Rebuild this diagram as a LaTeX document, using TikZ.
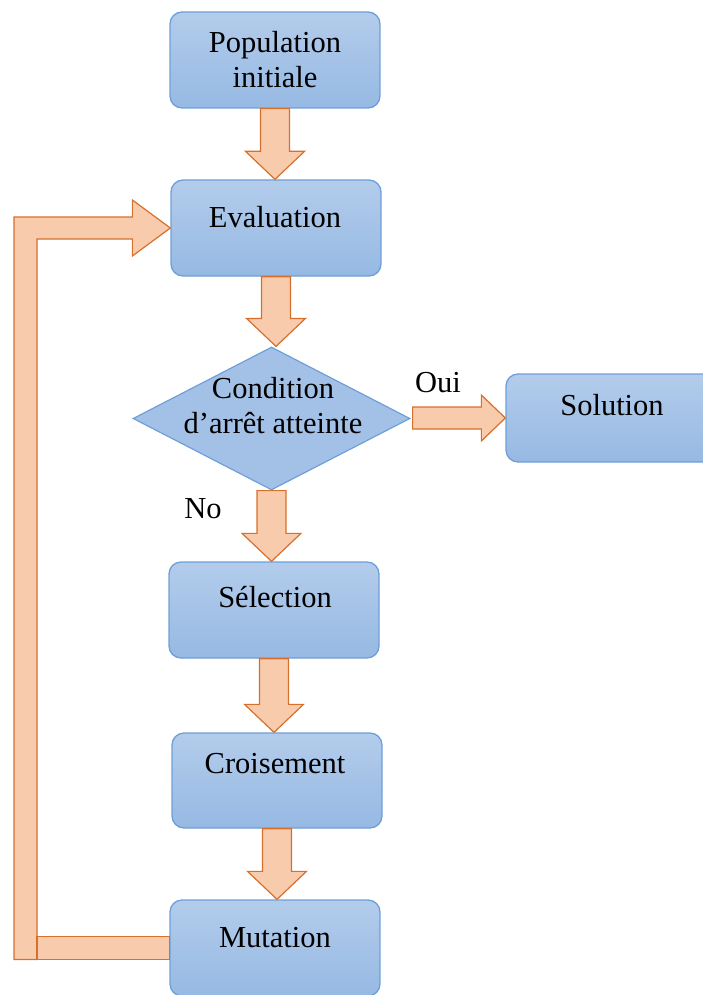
\documentclass[tikz,border=0pt]{standalone}
\usepackage{fontspec}
\setmainfont{Liberation Serif}
\usetikzlibrary{shapes.geometric,calc}

\definecolor{boxtop}{RGB}{179,204,235}
\definecolor{boxbot}{RGB}{150,185,227}
\definecolor{boxline}{RGB}{110,160,215}
\definecolor{diafill}{RGB}{163,193,230}
\definecolor{arrfill}{RGB}{248,203,173}
\definecolor{arrline}{RGB}{214,112,44}

% vertical block arrow from the bottom of #1 to the top of #2
\newcommand\blockdown[2]{%
  \path[blockarrow] let \p1=(#1.south), \p2=(#2.north) in
    (\x1-14.5pt,\y1) -- (\x1+14.5pt,\y1) -- (\x1+14.5pt,\y2+28pt)
    -- (\x1+29.5pt,\y2+28pt) -- (\x1,\y2) -- (\x1-29.5pt,\y2+28pt)
    -- (\x1-14.5pt,\y2+28pt) -- cycle;}

\begin{document}
\begin{tikzpicture}[x=1pt,y=-1pt,
  box/.style={draw=boxline, line width=1.3pt, rounded corners=12pt,
    top color=boxtop, bottom color=boxbot,
    minimum width=210pt, minimum height=96pt, inner sep=0pt},
  decision/.style={diamond, draw=boxline, line width=1.2pt, fill=diafill,
    minimum width=277pt, minimum height=143pt, inner sep=0pt},
  blockarrow/.style={draw=arrline, fill=arrfill, line width=1.2pt, line join=miter},
  lbl/.style={font=\fontsize{30.5}{35}\selectfont, inner sep=0pt, anchor=base}
]
\useasboundingbox (0,0) rectangle (703,995);

% boxes
\node[box] (pop) at (275,60) {};
\node[box] (eval) at (276,228) {};
\node[decision] (cond) at (271.5,418.5) {};
\node[box, minimum height=88pt] (sol) at (611,418) {};
\node[box] (sel) at (274,610) {};
\node[box, minimum height=95pt] (cross) at (277,780.5) {};
\node[box] (mut) at (275,948) {};

% texts (multi-line labels are placed by the baseline of their last line)
\node[lbl, align=center] (t-pop) at (275,88) {Population\\initiale};
\node[lbl] (t-eval) at (275,227) {Evaluation};
\node[lbl, align=center] (t-cond) at (273,433) {Condition\\d’arrêt atteinte};
\node[lbl] (t-sol) at (612,415) {Solution};
\node[lbl] (t-sel) at (275,607) {Sélection};
\node[lbl] (t-cross) at (275,773) {Croisement};
\node[lbl] (t-mut) at (275,947) {Mutation};
\node[lbl] (t-oui) at (438,392) {Oui};
\node[lbl] (t-no) at (203,518) {No};

% block arrows down the main column
\blockdown{pop}{eval}
\blockdown{eval}{cond}
\blockdown{cond}{sel}
\blockdown{sel}{cross}
\blockdown{cross}{mut}

% yes branch
\path[blockarrow] let \p1=(cond.east), \p2=(sol.west) in
  (\x1+2pt,\y2+11pt) -- (\x2-24pt,\y2+11pt) -- (\x2-24pt,\y2+23pt)
  -- (\x2,\y2) -- (\x2-24pt,\y2-23pt) -- (\x2-24pt,\y2-11pt)
  -- (\x1+2pt,\y2-11pt) -- cycle;

% loop back from mutation to evaluation
\coordinate (loopx) at (25.5,0);
\path[blockarrow] let \p1=(mut.west), \p2=(eval.west), \p3=(loopx) in
  (\x3-11.5pt,\y1-11.5pt) -- (\x3-11.5pt,\y2+11pt) -- (\x2-38pt,\y2+11pt)
  -- (\x2-38pt,\y2+28pt) -- (\x2,\y2) -- (\x2-38pt,\y2-28pt)
  -- (\x2-38pt,\y2-11pt) -- (\x3+11.5pt,\y2-11pt)
  -- (\x3+11.5pt,\y1-11.5pt) -- cycle;
\path[blockarrow] let \p1=(mut.west), \p3=(loopx) in
  (\x3+11.5pt,\y1-11.5pt) rectangle (\x1,\y1+11.5pt);
\end{tikzpicture}
\end{document}
